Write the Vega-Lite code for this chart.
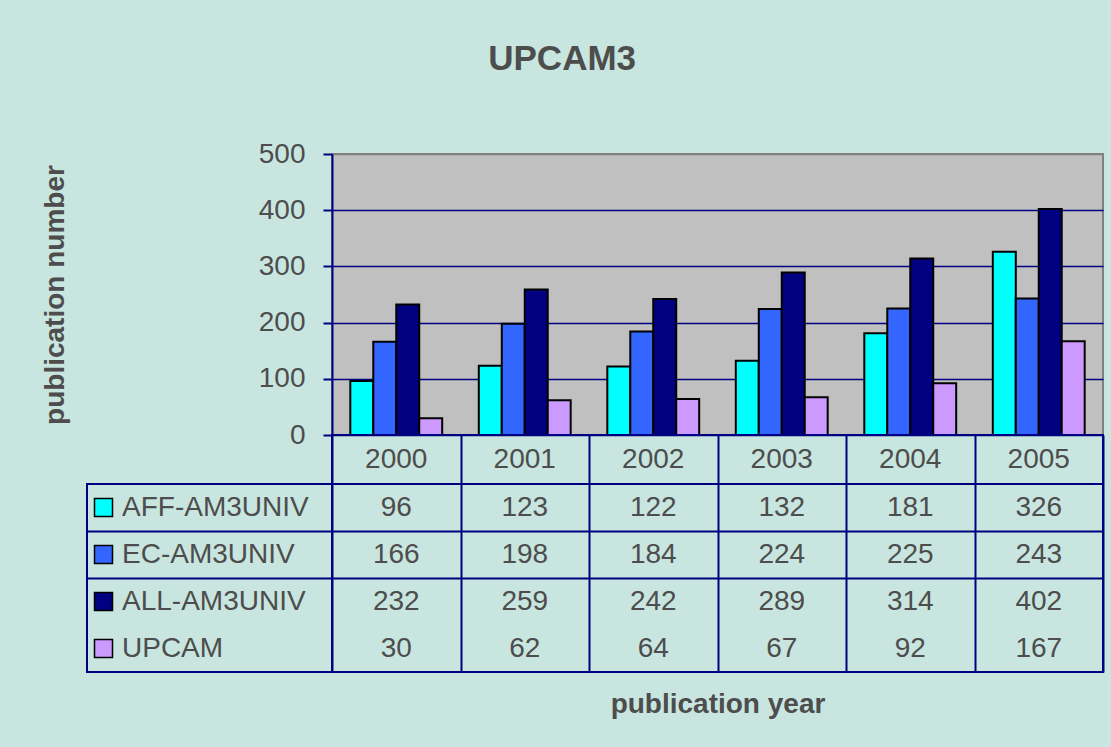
{
  "$schema": "https://vega.github.io/schema/vega-lite/v6.json",
  "background": "#c8e6df",
  "padding": {"left": 40, "top": 42, "right": 10, "bottom": 40},
  "title": {"text": "UPCAM3", "anchor": "middle", "fontSize": 35, "fontWeight": "bold", "color": "#4d4d4d", "offset": 62, "dx": -10},
  "config": {"font": "Liberation Sans"},
  "data": {"values": [
    {"year": "2000", "series": "AFF-AM3UNIV", "value": 96},
    {"year": "2001", "series": "AFF-AM3UNIV", "value": 123},
    {"year": "2002", "series": "AFF-AM3UNIV", "value": 122},
    {"year": "2003", "series": "AFF-AM3UNIV", "value": 132},
    {"year": "2004", "series": "AFF-AM3UNIV", "value": 181},
    {"year": "2005", "series": "AFF-AM3UNIV", "value": 326},
    {"year": "2000", "series": "EC-AM3UNIV", "value": 166},
    {"year": "2001", "series": "EC-AM3UNIV", "value": 198},
    {"year": "2002", "series": "EC-AM3UNIV", "value": 184},
    {"year": "2003", "series": "EC-AM3UNIV", "value": 224},
    {"year": "2004", "series": "EC-AM3UNIV", "value": 225},
    {"year": "2005", "series": "EC-AM3UNIV", "value": 243},
    {"year": "2000", "series": "ALL-AM3UNIV", "value": 232},
    {"year": "2001", "series": "ALL-AM3UNIV", "value": 259},
    {"year": "2002", "series": "ALL-AM3UNIV", "value": 242},
    {"year": "2003", "series": "ALL-AM3UNIV", "value": 289},
    {"year": "2004", "series": "ALL-AM3UNIV", "value": 314},
    {"year": "2005", "series": "ALL-AM3UNIV", "value": 402},
    {"year": "2000", "series": "UPCAM", "value": 30},
    {"year": "2001", "series": "UPCAM", "value": 62},
    {"year": "2002", "series": "UPCAM", "value": 64},
    {"year": "2003", "series": "UPCAM", "value": 67},
    {"year": "2004", "series": "UPCAM", "value": 92},
    {"year": "2005", "series": "UPCAM", "value": 167}
  ]},
  "columns": 2,
  "spacing": 0,
  "bounds": "flush",
  "concat": [
    {
      "width": 245, "height": 281,
      "view": {"stroke": null},
      "mark": {"type": "point", "opacity": 0},
      "encoding": {}
    },
    {
      "width": 771, "height": 281,
      "view": {"fill": "#c0c0c0", "stroke": "#808080", "strokeWidth": 2},
      "mark": {"type": "bar", "stroke": "black", "strokeWidth": 2},
      "encoding": {
        "x": {"field": "year", "type": "nominal", "scale": {"paddingInner": 0.285, "paddingOuter": 0.1425}, "axis": null},
        "xOffset": {"field": "series", "type": "nominal", "sort": ["AFF-AM3UNIV", "EC-AM3UNIV", "ALL-AM3UNIV", "UPCAM"], "scale": {"paddingInner": 0, "paddingOuter": 0}},
        "y": {"field": "value", "type": "quantitative", "scale": {"domain": [0, 500], "nice": false},
          "axis": {"values": [0, 100, 200, 300, 400, 500], "title": "publication number", "grid": true,
            "gridColor": {"condition": {"test": "datum.value === 500", "value": "#808080"}, "value": "#000080"}, "gridWidth": 1.5,
            "domainColor": "#000080", "domainWidth": 2, "tickColor": "#000080", "tickWidth": 2, "tickSize": 9,
            "labelFontSize": 28, "labelColor": "#4d4d4d", "labelPadding": 18,
            "titleFontSize": 28, "titleFontWeight": "bold", "titleColor": "#4d4d4d", "titlePadding": 189}},
        "color": {"field": "series", "type": "nominal", "scale": {"domain": ["AFF-AM3UNIV", "EC-AM3UNIV", "ALL-AM3UNIV", "UPCAM"], "range": ["#00ffff", "#3366ff", "#000080", "#cc99ff"]}, "legend": null}
      }
    },
    {
      "width": 245, "height": 49,
      "view": {"stroke": null},
      "mark": {"type": "point", "opacity": 0},
      "encoding": {}
    },
    {
      "width": 771, "height": 49,
      "view": {"stroke": "#000080", "strokeWidth": 2},
      "transform": [{"filter": "datum.series === 'AFF-AM3UNIV'"}],
      "mark": {"type": "text", "fontSize": 28, "color": "#4d4d4d"},
      "encoding": {
        "x": {"field": "year", "type": "nominal", "scale": {"paddingInner": 0, "paddingOuter": 0},
          "axis": {"tickBand": "extent", "grid": true, "gridColor": "#000080", "gridWidth": 2, "labels": false, "ticks": false, "domain": false, "title": null}},
        "text": {"field": "year"}
      }
    },
    {
      "width": 245, "height": 188,
      "view": {"stroke": "#000080", "strokeWidth": 2},
      "transform": [{"filter": "datum.year === '2000'"}],
      "encoding": {
        "y": {"field": "series", "type": "nominal", "sort": ["AFF-AM3UNIV", "EC-AM3UNIV", "ALL-AM3UNIV", "UPCAM"], "scale": {"paddingInner": 0, "paddingOuter": 0},
          "axis": {"values": ["EC-AM3UNIV"], "tickBand": "extent", "grid": true, "gridColor": "#000080", "gridWidth": 2, "labels": false, "ticks": false, "domain": false, "title": null}}
      },
      "layer": [
        {
          "mark": {"type": "point", "shape": "square", "filled": true, "size": 324, "stroke": "black", "strokeWidth": 1.5, "opacity": 1},
          "encoding": {"x": {"value": 16.5}, "color": {"field": "series", "type": "nominal", "legend": null}}
        },
        {
          "mark": {"type": "text", "align": "left", "fontSize": 28, "color": "#4d4d4d"},
          "encoding": {"x": {"value": 35}, "text": {"field": "series"}}
        }
      ]
    },
    {
      "width": 771, "height": 188,
      "view": {"stroke": "#000080", "strokeWidth": 2},
      "mark": {"type": "text", "fontSize": 28, "color": "#4d4d4d"},
      "encoding": {
        "x": {"field": "year", "type": "nominal", "scale": {"paddingInner": 0, "paddingOuter": 0},
          "axis": {"tickBand": "extent", "grid": true, "gridColor": "#000080", "gridWidth": 2, "labels": false, "ticks": false, "domain": false,
            "title": "publication year", "titleFontSize": 28, "titleFontWeight": "bold", "titleColor": "#4d4d4d", "titlePadding": 18}},
        "y": {"field": "series", "type": "nominal", "sort": ["AFF-AM3UNIV", "EC-AM3UNIV", "ALL-AM3UNIV", "UPCAM"], "scale": {"paddingInner": 0, "paddingOuter": 0},
          "axis": {"values": ["EC-AM3UNIV"], "tickBand": "extent", "grid": true, "gridColor": "#000080", "gridWidth": 2, "labels": false, "ticks": false, "domain": false, "title": null}},
        "text": {"field": "value"}
      }
    }
  ]
}
